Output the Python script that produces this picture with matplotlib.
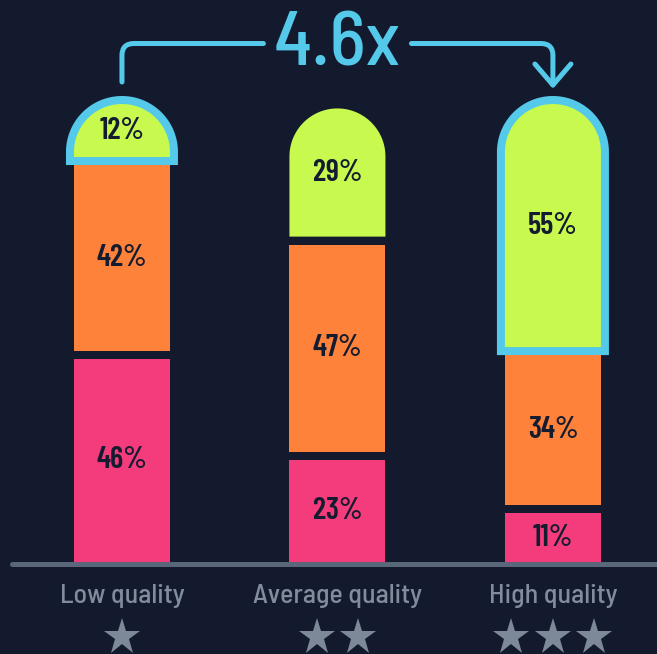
import numpy as np
import matplotlib
matplotlib.use("Agg")
import matplotlib.pyplot as plt
from matplotlib.path import Path
from matplotlib.patches import PathPatch
from matplotlib import font_manager as fm

# ---- data -------------------------------------------------------------
categories = ["Low quality", "Average quality", "High quality"]
star_counts = [1, 2, 3]
bottom_share = [46, 23, 11]   # pink segment
middle_share = [42, 47, 34]   # orange segment
top_share = [12, 29, 55]      # green segment
highlighted = [True, False, True]
ratio_label = "4.6x"

# ---- style ------------------------------------------------------------
BG = "#141a2e"
PINK = "#f43b7c"
ORANGE = "#ff823a"
GREEN = "#c7f94f"
BLUE = "#55c9e9"
LABEL_GRAY = "#818c9d"
STAR_GRAY = "#7d8898"
BASE_GRAY = "#5a6679"
INK = "#161c30"

installed = {f.name for f in fm.fontManager.ttflist}


def pick_font(*names):
    for n in names:
        if n in installed:
            return n
    return "DejaVu Sans"


FONT = pick_font("Barlow Semi Condensed", "Barlow Condensed",
                 "Roboto Condensed", "DejaVu Sans")
FONT_NARROW = pick_font("Barlow Condensed", "Barlow Semi Condensed",
                        "Roboto Condensed", "DejaVu Sans")

W_PX, H_PX = 657, 654
fig = plt.figure(figsize=(W_PX / 100, H_PX / 100), dpi=100, facecolor=BG)
ax = fig.add_axes([0, 0, 1, 1])
ax.set_facecolor(BG)
ax.set_xlim(-0.566, 2.483)
ax.set_ylim(-20.81, 127.15)
ax.axis("off")

# pixels per data unit, used to keep the caps circular and gaps constant
px_x = W_PX / (ax.get_xlim()[1] - ax.get_xlim()[0])
px_y = H_PX / (ax.get_ylim()[1] - ax.get_ylim()[0])

bar_w = 96 / px_x
gap = 8 / px_y
ring_x = 8 / px_x
ring_y = 8 / px_y


def capped_path(xc, y0, y1, half):
    """Rectangle from y0 to y1 whose top is a half circle (in pixels)."""
    ry = half * px_x / px_y
    yc = max(y1 - ry, y0)
    t = np.linspace(0, np.pi, 80)
    arc = np.column_stack([xc + half * np.cos(t), yc + ry * np.sin(t)])
    verts = np.vstack([[xc - half, y0], [xc + half, y0], arc,
                       [xc - half, y0], [xc - half, y0]])
    codes = [Path.MOVETO] + [Path.LINETO] * (len(verts) - 2) + [Path.CLOSEPOLY]
    return Path(verts, codes)


stack_tops = []
for i, cat in enumerate(categories):
    segs = [(bottom_share[i], PINK), (middle_share[i], ORANGE),
            (top_share[i], GREEN)]
    y = 0.0
    for k, (val, col) in enumerate(segs):
        y0, y1 = y, y + val
        if k == len(segs) - 1:
            if highlighted[i]:
                ring = capped_path(i, y0 - ring_y, y1 + ring_y,
                                   bar_w / 2 + ring_x)
                ax.add_patch(PathPatch(ring, facecolor=BLUE, edgecolor="none",
                                       zorder=2))
            ax.add_patch(PathPatch(capped_path(i, y0, y1, bar_w / 2),
                                   facecolor=col, edgecolor="none", zorder=3))
        else:
            ax.bar(i, val, bottom=y0, width=bar_w, color=col, zorder=3,
                   linewidth=0)
        ax.text(i, (y0 + y1) / 2, f"{val}%", ha="center", va="center",
                fontsize=22, fontweight="semibold", color=INK,
                family=FONT_NARROW, zorder=5)
        y = y1 + gap
    stack_tops.append(y - gap)

# baseline
ax.plot([-110 / px_x, 2.8], [-1.5 / px_y] * 2, color=BASE_GRAY,
        lw=5 * 0.72, solid_capstyle="round", zorder=4)

# category labels and star ratings
for i, (cat, n) in enumerate(zip(categories, star_counts)):
    ax.text(i, -41 / px_y, cat, ha="center", va="baseline", fontsize=20,
            fontweight="medium", color=LABEL_GRAY, family=FONT)
    offs = (np.arange(n) - (n - 1) / 2) * 41.5 / px_x
    ax.plot(i + offs, np.full(n, -75 / px_y), ls="none", marker="*",
            markersize=28, color=STAR_GRAY, markeredgewidth=0)

# comparison connector between the two highlighted bars
a, b = [i for i, h in enumerate(highlighted) if h]
top = max(stack_tops[a], stack_tops[b])
y_h = top + 60.5 / px_y
y_start = stack_tops[a] + 22 / px_y
y_tip = stack_tops[b] + 19 / px_y
crx, cry = 12 / px_x, 12 / px_y
mid = (a + b) / 2
half_gap = 74 / px_x

left = Path([(a, y_start), (a, y_h - cry), (a, y_h), (a + crx, y_h),
             (mid - half_gap, y_h)],
            [Path.MOVETO, Path.LINETO, Path.CURVE3, Path.CURVE3, Path.LINETO])
right = Path([(mid + half_gap, y_h), (b - crx, y_h), (b, y_h), (b, y_h - cry),
              (b, y_tip)],
             [Path.MOVETO, Path.LINETO, Path.CURVE3, Path.CURVE3, Path.LINETO])
head = Path([(b - 18 / px_x, y_tip + 21 / px_y), (b, y_tip),
             (b + 18 / px_x, y_tip + 21 / px_y)],
            [Path.MOVETO, Path.LINETO, Path.LINETO])
for p in (left, right, head):
    ax.add_patch(PathPatch(p, facecolor="none", edgecolor=BLUE, lw=5 * 0.72,
                           capstyle="round", joinstyle="round", zorder=4))

ax.text(mid, top + 38.3 / px_y, ratio_label, ha="center", va="baseline",
        fontsize=55, fontweight="medium", color=BLUE, family=FONT)

fig.savefig("out.png", dpi=100, facecolor=BG)
